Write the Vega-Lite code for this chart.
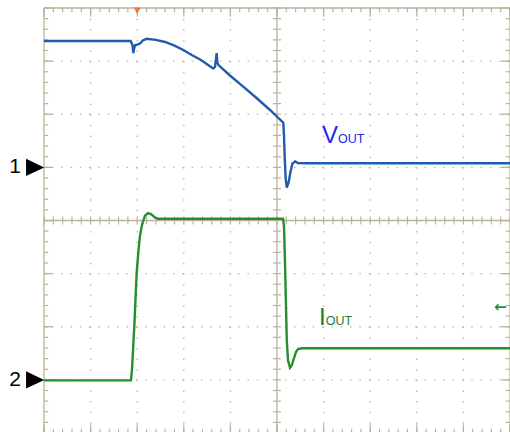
{
  "$schema": "https://vega.github.io/schema/vega-lite/v6.json",
  "width": 466,
  "height": 425,
  "autosize": {"type": "none"},
  "padding": {"left": 44, "top": 8, "right": 0, "bottom": 0},
  "background": "white",
  "config": {"view": {"stroke": null}},
  "datasets": {
    "vg": [{"v": 1}, {"v": 2}, {"v": 3}, {"v": 4}, {"v": 6}, {"v": 7}, {"v": 8}, {"v": 9}],
    "hg": [{"v": 1}, {"v": 2}, {"v": 3}, {"v": 5}, {"v": 6}, {"v": 7}],
    "sx": [{"v": 0}, {"v": 5}, {"v": 10}],
    "sy": [{"v": 0}, {"v": 4}, {"v": 8}],
    "xm": [{"v": 0}, {"v": 1}, {"v": 2}, {"v": 3}, {"v": 4}, {"v": 5}, {"v": 6}, {"v": 7}, {"v": 8}, {"v": 9}, {"v": 10}],
    "ym": [{"v": 0}, {"v": 1}, {"v": 2}, {"v": 3}, {"v": 4}, {"v": 5}, {"v": 6}, {"v": 7}, {"v": 8}],
    "xt": [{"v": 0}, {"v": 0.2}, {"v": 0.4}, {"v": 0.6}, {"v": 0.8}, {"v": 1}, {"v": 1.2}, {"v": 1.4}, {"v": 1.6}, {"v": 1.8}, {"v": 2}, {"v": 2.2}, {"v": 2.4}, {"v": 2.6}, {"v": 2.8}, {"v": 3}, {"v": 3.2}, {"v": 3.4}, {"v": 3.6}, {"v": 3.8}, {"v": 4}, {"v": 4.2}, {"v": 4.4}, {"v": 4.6}, {"v": 4.8}, {"v": 5}, {"v": 5.2}, {"v": 5.4}, {"v": 5.6}, {"v": 5.8}, {"v": 6}, {"v": 6.2}, {"v": 6.4}, {"v": 6.6}, {"v": 6.8}, {"v": 7}, {"v": 7.2}, {"v": 7.4}, {"v": 7.6}, {"v": 7.8}, {"v": 8}, {"v": 8.2}, {"v": 8.4}, {"v": 8.6}, {"v": 8.8}, {"v": 9}, {"v": 9.2}, {"v": 9.4}, {"v": 9.6}, {"v": 9.8}, {"v": 10}],
    "yt": [{"v": 0}, {"v": 0.2}, {"v": 0.4}, {"v": 0.6}, {"v": 0.8}, {"v": 1}, {"v": 1.2}, {"v": 1.4}, {"v": 1.6}, {"v": 1.8}, {"v": 2}, {"v": 2.2}, {"v": 2.4}, {"v": 2.6}, {"v": 2.8}, {"v": 3}, {"v": 3.2}, {"v": 3.4}, {"v": 3.6}, {"v": 3.8}, {"v": 4}, {"v": 4.2}, {"v": 4.4}, {"v": 4.6}, {"v": 4.8}, {"v": 5}, {"v": 5.2}, {"v": 5.4}, {"v": 5.6}, {"v": 5.8}, {"v": 6}, {"v": 6.2}, {"v": 6.4}, {"v": 6.6}, {"v": 6.8}, {"v": 7}, {"v": 7.2}, {"v": 7.4}, {"v": 7.6}, {"v": 7.8}, {"v": 8}],
    "traces": [
      {"ch": "VOUT", "t": 0, "v": 7.38}, {"ch": "VOUT", "t": 1.86, "v": 7.38}, {"ch": "VOUT", "t": 1.9, "v": 7.3}, {"ch": "VOUT", "t": 1.917, "v": 7.15}, {"ch": "VOUT", "t": 1.935, "v": 7.24}, {"ch": "VOUT", "t": 1.953, "v": 7.3}, {"ch": "VOUT", "t": 2.0, "v": 7.31}, {"ch": "VOUT", "t": 2.06, "v": 7.33}, {"ch": "VOUT", "t": 2.12, "v": 7.39}, {"ch": "VOUT", "t": 2.2, "v": 7.42}, {"ch": "VOUT", "t": 2.4, "v": 7.4}, {"ch": "VOUT", "t": 2.6, "v": 7.36}, {"ch": "VOUT", "t": 2.8, "v": 7.29}, {"ch": "VOUT", "t": 2.99, "v": 7.21}, {"ch": "VOUT", "t": 3.18, "v": 7.11}, {"ch": "VOUT", "t": 3.35, "v": 7.03}, {"ch": "VOUT", "t": 3.5, "v": 6.94}, {"ch": "VOUT", "t": 3.63, "v": 6.86}, {"ch": "VOUT", "t": 3.67, "v": 6.89}, {"ch": "VOUT", "t": 3.705, "v": 7.15}, {"ch": "VOUT", "t": 3.72, "v": 6.97}, {"ch": "VOUT", "t": 3.75, "v": 6.92}, {"ch": "VOUT", "t": 3.99, "v": 6.73}, {"ch": "VOUT", "t": 4.25, "v": 6.54}, {"ch": "VOUT", "t": 4.53, "v": 6.33}, {"ch": "VOUT", "t": 4.85, "v": 6.08}, {"ch": "VOUT", "t": 5.135, "v": 5.84}, {"ch": "VOUT", "t": 5.15, "v": 5.6}, {"ch": "VOUT", "t": 5.165, "v": 5.2}, {"ch": "VOUT", "t": 5.185, "v": 4.8}, {"ch": "VOUT", "t": 5.21, "v": 4.62}, {"ch": "VOUT", "t": 5.25, "v": 4.72}, {"ch": "VOUT", "t": 5.29, "v": 4.92}, {"ch": "VOUT", "t": 5.33, "v": 5.07}, {"ch": "VOUT", "t": 5.39, "v": 5.11}, {"ch": "VOUT", "t": 5.45, "v": 5.08}, {"ch": "VOUT", "t": 5.6, "v": 5.077}, {"ch": "VOUT", "t": 10, "v": 5.077},
      {"ch": "IOUT", "t": 0, "v": 0.99}, {"ch": "IOUT", "t": 1.867, "v": 0.99}, {"ch": "IOUT", "t": 1.888, "v": 1.19}, {"ch": "IOUT", "t": 1.938, "v": 2.01}, {"ch": "IOUT", "t": 1.989, "v": 3.02}, {"ch": "IOUT", "t": 2.028, "v": 3.44}, {"ch": "IOUT", "t": 2.06, "v": 3.71}, {"ch": "IOUT", "t": 2.103, "v": 3.92}, {"ch": "IOUT", "t": 2.167, "v": 4.09}, {"ch": "IOUT", "t": 2.23, "v": 4.14}, {"ch": "IOUT", "t": 2.296, "v": 4.12}, {"ch": "IOUT", "t": 2.38, "v": 4.056}, {"ch": "IOUT", "t": 2.446, "v": 4.034}, {"ch": "IOUT", "t": 5.129, "v": 4.034}, {"ch": "IOUT", "t": 5.15, "v": 3.9}, {"ch": "IOUT", "t": 5.17, "v": 3.26}, {"ch": "IOUT", "t": 5.19, "v": 2.5}, {"ch": "IOUT", "t": 5.21, "v": 1.75}, {"ch": "IOUT", "t": 5.236, "v": 1.37}, {"ch": "IOUT", "t": 5.279, "v": 1.23}, {"ch": "IOUT", "t": 5.32, "v": 1.28}, {"ch": "IOUT", "t": 5.365, "v": 1.41}, {"ch": "IOUT", "t": 5.408, "v": 1.525}, {"ch": "IOUT", "t": 5.45, "v": 1.58}, {"ch": "IOUT", "t": 5.536, "v": 1.594}, {"ch": "IOUT", "t": 10, "v": 1.594}
    ],
    "labels": [
      {"txt": "V", "x": 5.966, "y": 5.459, "kind": "vbig"},
      {"txt": "OUT", "x": 6.309, "y": 5.459, "kind": "vsub"},
      {"txt": "I", "x": 5.901, "y": 2.03, "kind": "ibig"},
      {"txt": "OUT", "x": 6.045, "y": 2.03, "kind": "isub"}
    ],
    "chans": [{"txt": "1", "x": -0.622, "y": 5}, {"txt": "2", "x": -0.622, "y": 1}]
  },
  "layer": [
    {
      "data": {"name": "hg"},
      "mark": {"type": "rule", "color": "#bfb9a2", "strokeWidth": 1.4, "strokeDash": [1.5, 7.82]},
      "encoding": {"y": {"field": "v", "type": "quantitative", "scale": {"domain": [0, 8], "nice": false, "zero": false}, "axis": null}}
    },
    {
      "data": {"name": "vg"},
      "mark": {"type": "rule", "color": "#bfb9a2", "strokeWidth": 1.4, "strokeDash": [1.5, 9.125]},
      "encoding": {"x": {"field": "v", "type": "quantitative", "scale": {"domain": [0, 10], "nice": false, "zero": false}, "axis": null}}
    },
    {
      "data": {"name": "sx"},
      "mark": {"type": "rule", "color": "#bab39c", "strokeWidth": 1.3},
      "encoding": {"x": {"field": "v", "type": "quantitative"}}
    },
    {
      "data": {"name": "sy"},
      "mark": {"type": "rule", "color": "#bab39c", "strokeWidth": 1.3},
      "encoding": {"y": {"field": "v", "type": "quantitative"}}
    },
    {
      "data": {"name": "xt"},
      "mark": {"type": "rule", "color": "#bab39c", "strokeWidth": 1.2},
      "encoding": {"x": {"field": "v", "type": "quantitative"}, "y": {"datum": 8}, "y2": {"datum": 7.92}}
    },
    {
      "data": {"name": "xt"},
      "mark": {"type": "rule", "color": "#bab39c", "strokeWidth": 1.2},
      "encoding": {"x": {"field": "v", "type": "quantitative"}, "y": {"datum": 0}, "y2": {"datum": 0.08}}
    },
    {
      "data": {"name": "xt"},
      "mark": {"type": "rule", "color": "#bab39c", "strokeWidth": 1.2},
      "encoding": {"x": {"field": "v", "type": "quantitative"}, "y": {"datum": 3.925}, "y2": {"datum": 4.075}}
    },
    {
      "data": {"name": "yt"},
      "mark": {"type": "rule", "color": "#bab39c", "strokeWidth": 1.2},
      "encoding": {"y": {"field": "v", "type": "quantitative"}, "x": {"datum": 0}, "x2": {"datum": 0.09}}
    },
    {
      "data": {"name": "yt"},
      "mark": {"type": "rule", "color": "#bab39c", "strokeWidth": 1.2},
      "encoding": {"y": {"field": "v", "type": "quantitative"}, "x": {"datum": 9.91}, "x2": {"datum": 10}}
    },
    {
      "data": {"name": "yt"},
      "mark": {"type": "rule", "color": "#bab39c", "strokeWidth": 1.2},
      "encoding": {"y": {"field": "v", "type": "quantitative"}, "x": {"datum": 4.914}, "x2": {"datum": 5.086}}
    },
    {
      "data": {"name": "xm"},
      "mark": {"type": "rule", "color": "#bab39c", "strokeWidth": 1.3},
      "encoding": {"x": {"field": "v", "type": "quantitative"}, "y": {"datum": 8}, "y2": {"datum": 7.84}}
    },
    {
      "data": {"name": "xm"},
      "mark": {"type": "rule", "color": "#bab39c", "strokeWidth": 1.3},
      "encoding": {"x": {"field": "v", "type": "quantitative"}, "y": {"datum": 0}, "y2": {"datum": 0.16}}
    },
    {
      "data": {"name": "ym"},
      "mark": {"type": "rule", "color": "#bab39c", "strokeWidth": 1.3},
      "encoding": {"y": {"field": "v", "type": "quantitative"}, "x": {"datum": 0}, "x2": {"datum": 0.19}}
    },
    {
      "data": {"name": "ym"},
      "mark": {"type": "rule", "color": "#bab39c", "strokeWidth": 1.3},
      "encoding": {"y": {"field": "v", "type": "quantitative"}, "x": {"datum": 9.81}, "x2": {"datum": 10}}
    },
    {
      "data": {"name": "traces"},
      "mark": {"type": "line", "strokeWidth": 2.4, "interpolate": "linear"},
      "encoding": {
        "x": {"field": "t", "type": "quantitative"},
        "y": {"field": "v", "type": "quantitative"},
        "color": {"field": "ch", "type": "nominal", "scale": {"domain": ["VOUT", "IOUT"], "range": ["#1f5cae", "#23902b"]}, "legend": null},
        "order": {"field": "t", "type": "quantitative"}
      }
    },
    {
      "data": {"name": "labels"},
      "transform": [{"filter": "datum.kind == 'vbig'"}],
      "mark": {"type": "text", "align": "left", "baseline": "alphabetic", "font": "Liberation Sans", "fontSize": 24, "color": "#2228e8"},
      "encoding": {"x": {"field": "x", "type": "quantitative"}, "y": {"field": "y", "type": "quantitative"}, "text": {"field": "txt"}}
    },
    {
      "data": {"name": "labels"},
      "transform": [{"filter": "datum.kind == 'vsub'"}],
      "mark": {"type": "text", "align": "left", "baseline": "alphabetic", "font": "Liberation Sans", "fontSize": 12.5, "color": "#2228e8"},
      "encoding": {"x": {"field": "x", "type": "quantitative"}, "y": {"field": "y", "type": "quantitative"}, "text": {"field": "txt"}}
    },
    {
      "data": {"name": "labels"},
      "transform": [{"filter": "datum.kind == 'ibig'"}],
      "mark": {"type": "text", "align": "left", "baseline": "alphabetic", "font": "Liberation Sans", "fontSize": 24, "color": "#1d7a38"},
      "encoding": {"x": {"field": "x", "type": "quantitative"}, "y": {"field": "y", "type": "quantitative"}, "text": {"field": "txt"}}
    },
    {
      "data": {"name": "labels"},
      "transform": [{"filter": "datum.kind == 'isub'"}],
      "mark": {"type": "text", "align": "left", "baseline": "alphabetic", "font": "Liberation Sans", "fontSize": 12.5, "color": "#1d7a38"},
      "encoding": {"x": {"field": "x", "type": "quantitative"}, "y": {"field": "y", "type": "quantitative"}, "text": {"field": "txt"}}
    },
    {
      "data": {"name": "chans"},
      "mark": {"type": "text", "align": "center", "baseline": "middle", "font": "Liberation Sans", "fontSize": 21, "color": "black"},
      "encoding": {"x": {"field": "x", "type": "quantitative"}, "y": {"field": "y", "type": "quantitative"}, "text": {"field": "txt"}}
    },
    {
      "data": {"name": "chans"},
      "mark": {"type": "point", "shape": "M-1,-0.94L1,0L-1,0.94Z", "size": 330, "filled": true, "color": "black", "opacity": 1},
      "encoding": {"x": {"datum": -0.19}, "y": {"field": "y", "type": "quantitative"}}
    },
    {
      "data": {"values": [{"v": 2.0}]},
      "mark": {"type": "point", "shape": "triangle-down", "size": 55, "filled": true, "color": "#f07a3a", "opacity": 1},
      "encoding": {"x": {"field": "v", "type": "quantitative"}, "y": {"datum": 7.95}}
    },
    {
      "data": {"values": [{"txt": "←", "x": 9.79, "y": 2.37}]},
      "mark": {"type": "text", "align": "center", "baseline": "middle", "font": "DejaVu Sans", "fontSize": 15, "fontWeight": "bold", "color": "#23902b"},
      "encoding": {"x": {"field": "x", "type": "quantitative"}, "y": {"field": "y", "type": "quantitative"}, "text": {"field": "txt"}}
    }
  ]
}
